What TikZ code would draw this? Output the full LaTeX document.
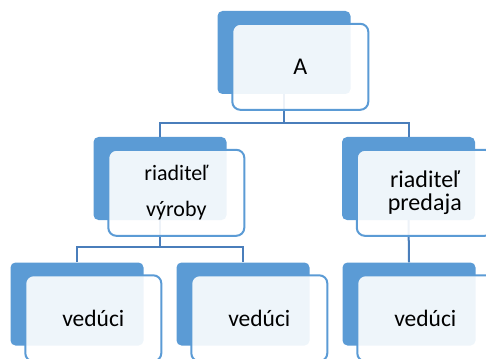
\documentclass[tikz,border=0pt]{standalone}
\usepackage{fontspec}
\setmainfont{Carlito}
\usepackage{tikz}
\definecolor{accent}{HTML}{5B9BD5}
\definecolor{linka}{HTML}{4A7EBB}
\tikzset{
back/.style={rectangle, rounded corners=5pt, fill=accent, minimum width=133pt, minimum height=83pt, inner sep=0pt}, % the dark box behind
front/.style={rectangle, rounded corners=8pt, draw=accent, line width=2pt, fill=white, fill opacity=0.9, text opacity=1, minimum width=136pt, minimum height=86pt, inner sep=0pt, align=center, anchor=north west}, % the light box with the text
conn/.style={draw=linka, line width=2pt}, % lines between the boxes
}

\begin{document}
\begin{tikzpicture}[x=1pt, y=-1pt]
        \useasboundingbox (0,0) rectangle (486,358);

        \node[back] (ad) at (284,52.5) {};
        \node[back] (vd) at (160,178.5) {};
        \node[back] (pd) at (408.5,178.5) {};
        \node[back] (v1d) at (77,304) {};
        \node[back] (v2d) at (243,304) {};
        \node[back] (v3d) at (409,304) {};

        \draw[conn] (ad.south) -- ++(0,29) -| (vd.north);
        \draw[conn] (ad.south) -- ++(0,29) -| (pd.north);
        \draw[conn] (vd.south) -- ++(0,27) -| (v1d.north);
        \draw[conn] (vd.south) -- ++(0,27) -| (v2d.north);
        \draw[conn] (pd.south) -- (v3d.north);

        \node[front, font=\fontsize{24}{29}\selectfont] (a) at ([shift={(14,12)}]ad.north west) {A};
        \node[front, font=\fontsize{22}{36}\selectfont] (v) at ([shift={(14,12)}]vd.north west) {riaditeľ\\výroby};
        \node[front, font=\fontsize{24}{23}\selectfont] (p) at ([shift={(14,12)}]pd.north west) {riaditeľ\\predaja};
        \node[front, font=\fontsize{23.5}{28}\selectfont] (v1) at ([shift={(14,12)}]v1d.north west) {vedúci};
        \node[front, font=\fontsize{23.5}{28}\selectfont] (v2) at ([shift={(14,12)}]v2d.north west) {vedúci};
        \node[front, font=\fontsize{23.5}{28}\selectfont] (v3) at ([shift={(14,12)}]v3d.north west) {vedúci};
    \end{tikzpicture}
\end{document}
